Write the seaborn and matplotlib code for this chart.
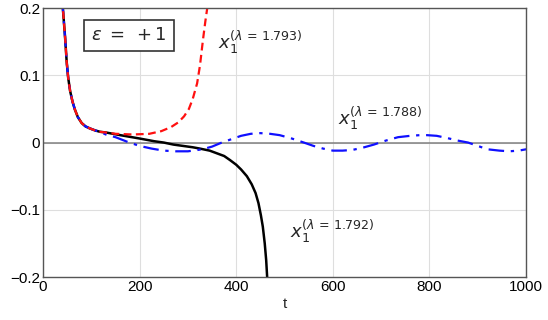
import numpy as np
import pandas as pd
import seaborn as sns
import matplotlib.pyplot as plt

# common initial decay (all three runs coincide here)
t_start = [38, 41, 45.5, 49, 52, 56, 61, 66, 72, 80, 88, 97, 108, 118]
x_start = [0.23, 0.2, 0.158, 0.12, 0.097, 0.077, 0.061, 0.049, 0.038, 0.029, 0.024, 0.021, 0.018, 0.016]

# lambda = 1.793 (red, dashed)
t_793 = [130, 150, 186, 220, 245, 265, 280, 292, 302, 310, 319, 325, 331, 336, 340, 344]
x_793 = [0.015, 0.013, 0.012, 0.013, 0.017, 0.023, 0.03, 0.039, 0.05, 0.065, 0.088, 0.115, 0.152, 0.18, 0.2, 0.23]

# lambda = 1.788 (blue, dash-dot)
t_788 = [130, 150, 175, 200, 225, 250, 275, 300, 330, 350, 370, 390, 410, 430, 450, 470, 490,
         515, 540, 560, 580, 600, 620, 640, 660, 685, 710, 735, 760, 780, 795, 815, 835, 858,
         880, 900, 920, 945, 965, 985, 1000]
x_788 = [0.012, 0.008, 0.001, -0.005, -0.009, -0.012, -0.013, -0.013, -0.010, -0.006, 0.0, 0.005,
         0.010, 0.013, 0.014, 0.013, 0.011, 0.006, 0.0, -0.005, -0.009, -0.012, -0.012, -0.011,
         -0.008, -0.003, 0.003, 0.008, 0.010, 0.011, 0.011, 0.010, 0.007, 0.003, 0.0, -0.005,
         -0.010, -0.012, -0.013, -0.012, -0.010]

# lambda = 1.792 (black, solid)
t_792 = [130, 160, 200, 230, 250, 270, 290, 310, 325, 345, 360, 375, 387, 400, 410, 422,
         432, 440, 446, 451, 455, 459, 462, 464, 466]
x_792 = [0.015, 0.011, 0.006, 0.002, 0.0, -0.003, -0.005, -0.007, -0.009, -0.012, -0.016, -0.020,
         -0.026, -0.033, -0.040, -0.050, -0.062, -0.075, -0.090, -0.108, -0.125, -0.150, -0.175,
         -0.2, -0.23]

runs = {"1.793": (t_793, x_793), "1.788": (t_788, x_788), "1.792": (t_792, x_792)}
frames = []
for lam, (tt, xx) in runs.items():
    frames.append(pd.DataFrame({"t": t_start + tt, "x": x_start + xx, "lam": lam}))
df = pd.concat(frames, ignore_index=True)

sns.set_style("whitegrid", {"grid.color": "#dedede", "axes.edgecolor": "#555555"})
plt.rcParams["font.family"] = ["Liberation Sans", "DejaVu Sans"]
plt.rcParams["mathtext.fontset"] = "dejavusans"

fig = plt.figure(figsize=(5.48, 3.2), dpi=100)
ax = fig.add_axes([0.0785, 0.134, 0.8815, 0.841])

ax.axhline(0, color="#808080", lw=1.1, zorder=1)

sns.lineplot(data=df[df["lam"] == "1.792"], x="t", y="x", color="black", lw=1.8, ax=ax, sort=False)
sns.lineplot(data=df[df["lam"] == "1.788"], x="t", y="x", color="#1010ff", lw=1.6, ax=ax, sort=False,
             linestyle=(0, (7, 3, 1.5, 3)))
sns.lineplot(data=df[df["lam"] == "1.793"], x="t", y="x", color="#ff1010", lw=1.6, ax=ax, sort=False,
             linestyle=(0, (3.5, 2)))

ax.set_xlim(0, 1000)
ax.set_ylim(-0.2, 0.2)
ax.set_xticks([0, 200, 400, 600, 800, 1000])
ax.set_yticks([-0.2, -0.1, 0, 0.1, 0.2])
ax.set_yticklabels(["\u22120.2", "\u22120.1", "0", "0.1", "0.2"])
ax.tick_params(direction="in", length=3, labelsize=11, pad=2, colors="#555555", labelcolor="black")
ax.set_xlabel("t", fontsize=11, labelpad=2)
ax.set_ylabel("")
for s in ax.spines.values():
    s.set_linewidth(1.0)

ax.text(178, 0.159, r"$\epsilon\;=\;+1$", fontsize=13, ha="center", va="center",
        bbox=dict(boxstyle="square,pad=0.38", fc="white", ec="#333333", lw=1.2))
ax.text(362, 0.148, r"$x_1^{(\lambda\,=\,1.793)}$", fontsize=13, va="center")
ax.text(610, 0.036, r"$x_1^{(\lambda\,=\,1.788)}$", fontsize=13, va="center")
ax.text(512, -0.132, r"$x_1^{(\lambda\,=\,1.792)}$", fontsize=13, va="center")

fig.savefig("out.png", dpi=100)
